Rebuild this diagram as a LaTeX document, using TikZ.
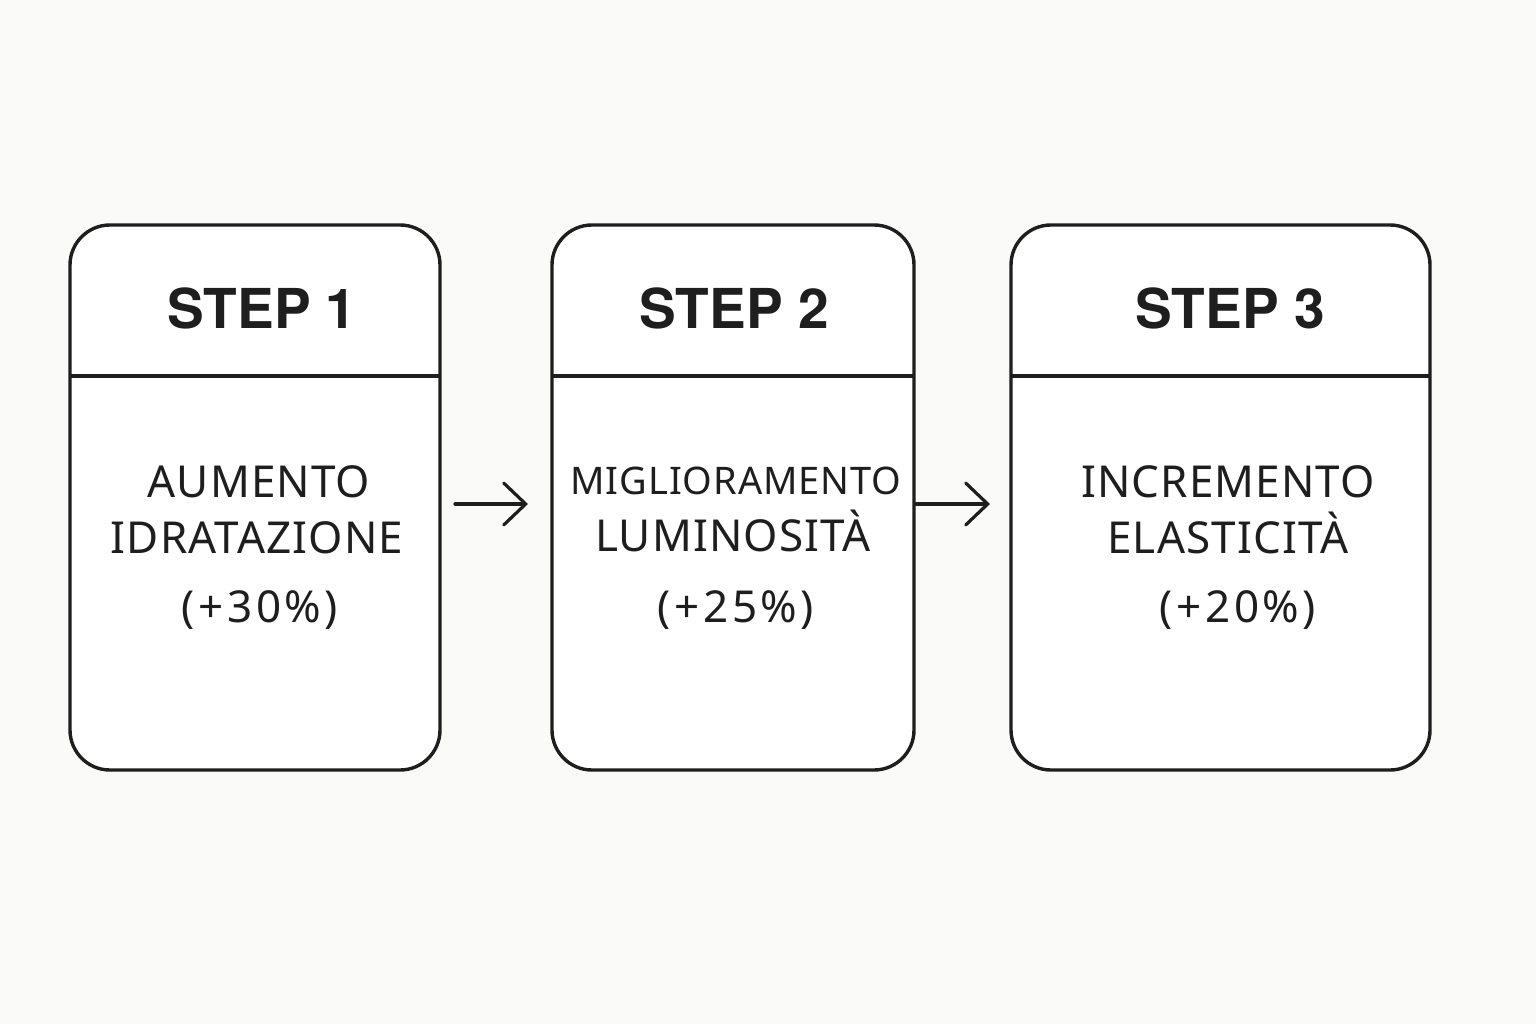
\documentclass[tikz,border=0pt]{standalone}
\usepackage{fontspec}
\setmainfont{Noto Sans}
\newfontfamily\spacedfont[LetterSpace=2.5]{Noto Sans}
\newfontfamily\widefont[LetterSpace=8]{Noto Sans}
\newfontfamily\titlefont{TeX Gyre Heros}
\usetikzlibrary{arrows.meta}
\definecolor{bg}{HTML}{FAFAF8}
\definecolor{ink}{HTML}{1E1E1E}
\begin{document}
\begin{tikzpicture}[x=1pt,y=-1pt,
  card/.style={draw=ink,line width=3.4pt,rounded corners=40pt,fill=white},
  divider/.style={draw=ink,line width=3.2pt},
  titletext/.style={text=ink,font=\titlefont\bfseries\fontsize{55}{60}\selectfont,anchor=base},
  bodytext/.style={text=ink,font=\spacedfont\fontsize{44}{50}\selectfont,anchor=base},
  pcttext/.style={text=ink,font=\widefont\fontsize{44}{50}\selectfont,anchor=base},
  flow/.style={draw=ink,line width=3.2pt,line cap=round,-{Straight Barb[length=22pt,width=42pt,line cap=round]}}
]
\path[fill=bg] (0,0) rectangle (1536,1024);
\useasboundingbox (0,0) rectangle (1536,1024);

% cards
\draw[card] (70,225) rectangle (440,770);
\draw[card] (552,225) rectangle (914,770);
\draw[card] (1011,225) rectangle (1430,770);
\draw[divider] (70,376) -- (440,376);
\draw[divider] (552,376) -- (914,376);
\draw[divider] (1011,376) -- (1430,376);

% connector end points
\coordinate (c1e) at (455,504);
\coordinate (c2w) at (528,504);
\coordinate (c2e) at (916,504);
\coordinate (c3w) at (990,504);

% titles
\node[titletext] (t1) at (262,328) {STEP 1};
\node[titletext] (t2) at (734,328) {STEP 2};
\node[titletext] (t3) at (1230,328) {STEP 3};

% body
\node[bodytext] (a1) at (259,497) {AUMENTO};
\node[bodytext] (b1) at (257,553) {IDRATAZIONE};
\node[pcttext] (p1) at (260,622) {(+30\%)};

\node[bodytext,font=\spacedfont\fontsize{38}{46}\selectfont] (a2) at (736,494) {MIGLIORAMENTO};
\node[bodytext] (b2) at (733,551) {LUMINOSITÀ};
\node[pcttext] (p2) at (736,622) {(+25\%)};

\node[bodytext] (a3) at (1228,497) {INCREMENTO};
\node[bodytext] (b3) at (1228,553) {ELASTICITÀ};
\node[pcttext] (p3) at (1238,622) {(+20\%)};

% arrows
\draw[flow] (c1e) -- (c2w);
\draw[flow] (c2e) -- (c3w);
\end{tikzpicture}
\end{document}
